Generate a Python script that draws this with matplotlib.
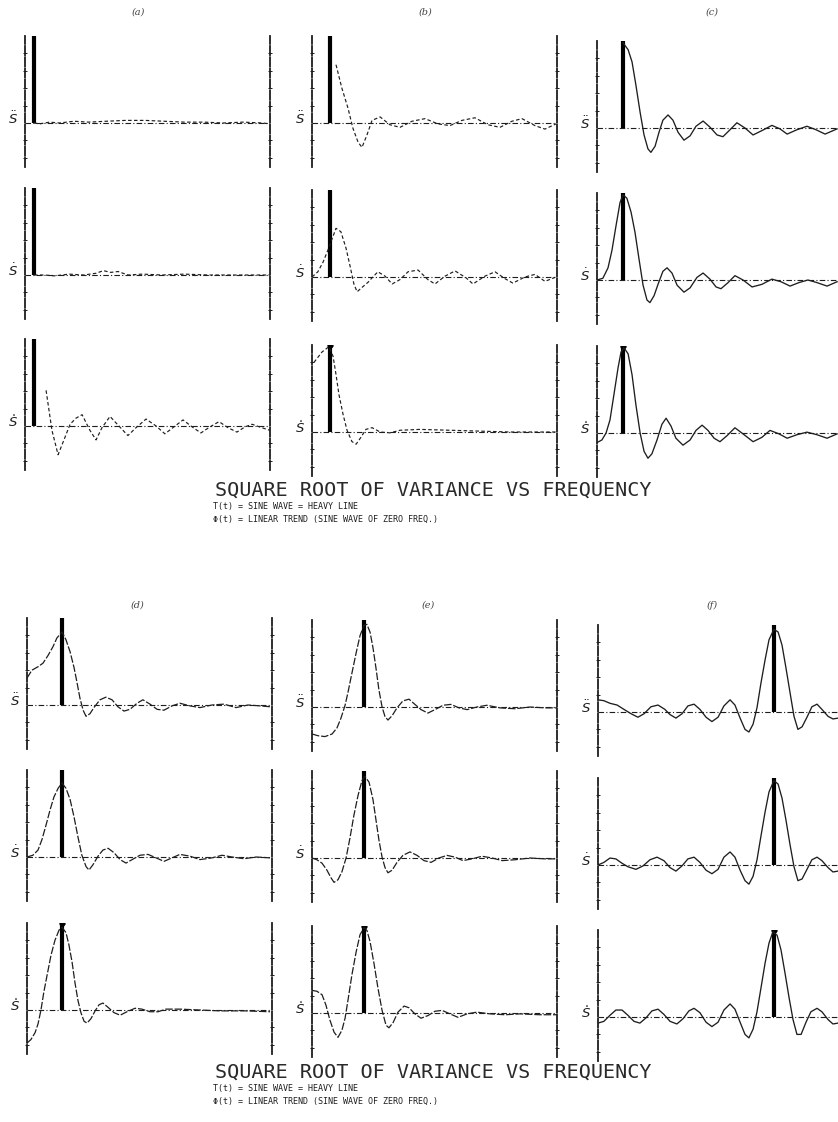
import matplotlib
matplotlib.use('Agg')
import matplotlib.pyplot as plt

# frequency axis runs 0..100 (% of Nyquist), amplitude in units of the sine-wave bar
bar_freq = {'a': 3.7, 'b': 7.3, 'c': 10.7, 'd': 14.3, 'e': 21.4, 'f': 71.8}
bar_height = 1.0

# ---- panel (a) ----
f_a1 = [3.7, 6, 10, 14, 20, 26, 33, 41, 49, 57, 65, 73, 81, 89, 97, 100]
s_a1 = [0, -0.01, 0.01, 0.0, 0.02, 0.01, 0.02, 0.03, 0.03, 0.02, 0.01, 0.01, 0.0, 0.01, 0.0, -0.01]
f_a2 = [3.7, 8, 12, 18, 24, 29, 32, 35, 38, 42, 48, 56, 65, 75, 85, 95, 100]
s_a2 = [0, 0.0, -0.01, 0.01, 0.0, 0.02, 0.05, 0.03, 0.04, 0.0, 0.01, 0.0, 0.01, 0.0, 0.0, 0.0, 0.0]
f_a3 = [8.6, 11.0, 13.5, 15.9, 18.4, 20.8, 23.3, 26.5, 29.0, 31.4, 34.7, 38.0, 42.0, 45.3, 49.4,
        53.5, 57.1, 60.8, 64.5, 68.2, 71.8, 75.5, 79.2, 82.9, 86.5, 89.8, 92.7, 96.7, 100]
s_a3 = [0.41, -0.05, -0.33, -0.16, 0.02, 0.09, 0.13, -0.05, -0.16, -0.02, 0.11, 0.01, -0.11, -0.02, 0.08,
        0.0, -0.09, -0.01, 0.07, -0.01, -0.08, -0.01, 0.05, -0.02, -0.07, -0.01, 0.02, -0.02, -0.05]

# ---- panel (b) ----
f_b1 = [9.8, 12.2, 14.7, 16.7, 18.8, 20.4, 22.4, 24.5, 27.8, 31.8, 35.9, 40.8, 46.1, 51.4, 56.3,
        61.2, 66.5, 71.8, 76.7, 81.6, 85.7, 91.0, 95.1, 99.6]
s_b1 = [0.67, 0.40, 0.17, -0.06, -0.22, -0.28, -0.14, 0.03, 0.07, -0.02, -0.05, 0.02, 0.05, -0.01, -0.03,
        0.03, 0.06, -0.02, -0.05, 0.02, 0.05, -0.03, -0.07, -0.01]
f_b2 = [0, 2.4, 4.5, 6.5, 9.8, 11.8, 13.9, 15.5, 17.1, 18.4, 20.4, 22.9, 24.5, 26.9, 29.8, 32.7, 35.9,
        39.2, 43.3, 47.3, 50.2, 54.3, 58.4, 62.9, 65.7, 70.6, 74.7, 78.8, 82.0, 86.9, 91.0, 95.1, 99.6]
s_b2 = [0, 0.06, 0.17, 0.31, 0.56, 0.52, 0.33, 0.13, -0.08, -0.17, -0.12, -0.06, -0.01, 0.06, 0.01, -0.08, -0.03,
        0.06, 0.08, -0.03, -0.08, 0.01, 0.07, -0.01, -0.08, 0.01, 0.06, -0.02, -0.07, 0.0, 0.03, -0.05, 0.0]
f_b3 = [0.8, 4.1, 6.9, 8.6, 9.8, 11.0, 12.7, 14.3, 16.3, 18.0, 20.0, 22.0, 24.5, 27.8, 31.8, 35.9,
        44.1, 56.3, 68.6, 80.8, 93.1, 99.6]
s_b3 = [0.80, 0.92, 0.98, 0.87, 0.66, 0.43, 0.20, 0.02, -0.11, -0.14, -0.06, 0.03, 0.05, 0.0, -0.01, 0.02,
        0.03, 0.02, 0.01, 0.0, 0.0, 0.0]

# ---- panel (c) ----
f_c1 = [10.6, 12.7, 14.3, 15.9, 17.6, 19.2, 20.8, 22.0, 23.7, 25.3, 26.9, 29.0, 31.0, 33.1, 35.5, 38.0,
        40.4, 43.3, 46.1, 49.0, 51.4, 54.3, 57.1, 60.4, 63.7, 67.3, 71.4, 74.7, 77.6, 81.6, 85.7, 89.4, 93.1, 98.0]
s_c1 = [0.98, 0.90, 0.76, 0.49, 0.18, -0.08, -0.24, -0.28, -0.21, -0.05, 0.09, 0.15, 0.09, -0.05, -0.14, -0.09,
        0.02, 0.08, 0.01, -0.08, -0.10, -0.02, 0.06, 0.0, -0.08, -0.03, 0.03, -0.01, -0.07, -0.02, 0.02, -0.02, -0.07, -0.01]
f_c2 = [0, 2.4, 4.5, 6.1, 7.8, 9.4, 10.6, 12.2, 13.9, 15.5, 17.1, 18.8, 20.4, 21.6, 23.3, 24.9, 26.9, 28.6,
        30.6, 32.7, 35.5, 38.0, 40.8, 43.3, 46.1, 48.6, 50.6, 53.5, 56.3, 59.6, 63.3, 67.3, 71.4, 75.1, 78.8,
        82.4, 86.1, 89.8, 93.9, 98.0]
s_c2 = [0, 0.02, 0.14, 0.34, 0.63, 0.89, 0.98, 0.94, 0.78, 0.55, 0.25, -0.06, -0.23, -0.26, -0.18, -0.05, 0.10, 0.14,
        0.08, -0.06, -0.14, -0.09, 0.03, 0.08, 0.01, -0.08, -0.10, -0.03, 0.05, 0.0, -0.08, -0.05, 0.01, -0.02, -0.07,
        -0.03, 0.0, -0.03, -0.07, -0.02]
f_c3 = [0, 2.0, 3.7, 5.3, 6.9, 8.6, 9.8, 11.0, 12.7, 14.3, 15.9, 17.6, 19.2, 20.8, 22.4, 24.5, 26.5, 28.2,
        30.2, 32.2, 35.1, 38.0, 40.4, 42.9, 45.3, 47.8, 50.2, 53.1, 56.3, 59.6, 63.7, 67.3, 70.6, 74.3, 77.6,
        81.6, 85.7, 89.8, 93.9, 98.0]
s_c3 = [-0.11, -0.08, 0.0, 0.15, 0.44, 0.75, 0.93, 0.98, 0.91, 0.67, 0.32, 0.0, -0.21, -0.29, -0.24, -0.08, 0.10, 0.17,
        0.08, -0.06, -0.14, -0.08, 0.03, 0.09, 0.03, -0.06, -0.10, -0.03, 0.06, -0.01, -0.10, -0.05, 0.03, -0.01, -0.06,
        -0.02, 0.01, -0.02, -0.06, -0.01]

# ---- panel (d) ----
f_d1 = [0, 2.0, 4.5, 6.5, 8.6, 10.6, 12.2, 14.3, 15.9, 17.6, 19.2, 20.4, 21.6, 22.9, 24.1, 25.7, 27.3, 29.8,
        32.2, 34.7, 37.1, 39.6, 42.0, 44.9, 47.3, 50.2, 53.1, 55.9, 59.2, 62.4, 66.5, 70.6, 75.5, 80.4, 85.3,
        90.2, 95.1, 99.2]
s_d1 = [0.31, 0.40, 0.44, 0.48, 0.57, 0.67, 0.77, 0.84, 0.75, 0.61, 0.43, 0.26, 0.08, -0.06, -0.13, -0.10, -0.03, 0.06,
        0.09, 0.06, -0.02, -0.07, -0.05, 0.02, 0.06, 0.01, -0.05, -0.06, -0.01, 0.02, -0.01, -0.03, 0.0, 0.01, -0.03,
        0.0, -0.01, -0.02]
f_d2 = [0, 2.4, 4.5, 6.1, 7.8, 9.4, 11.0, 12.7, 14.3, 15.9, 17.6, 19.2, 20.8, 22.4, 24.1, 25.3, 26.9, 29.0,
        31.0, 33.1, 35.5, 38.0, 40.4, 42.9, 46.1, 49.4, 52.7, 55.9, 59.2, 62.4, 66.5, 70.6, 75.5, 79.6, 83.7,
        88.6, 93.5, 99.2]
s_d2 = [0, 0.02, 0.08, 0.20, 0.37, 0.54, 0.69, 0.79, 0.85, 0.79, 0.66, 0.46, 0.23, 0.02, -0.11, -0.15, -0.09, 0.01,
        0.08, 0.10, 0.05, -0.03, -0.07, -0.03, 0.02, 0.03, -0.01, -0.05, -0.01, 0.03, 0.01, -0.03, -0.01, 0.02, 0.0,
        -0.02, 0.0, -0.01]
f_d3 = [0, 1.6, 3.3, 4.5, 5.7, 6.9, 8.2, 9.8, 11.4, 13.1, 14.3, 15.9, 17.1, 18.4, 19.6, 20.8, 22.0, 23.3,
        24.5, 26.1, 27.8, 29.4, 31.0, 33.1, 35.5, 38.0, 40.8, 44.1, 46.9, 50.2, 53.5, 56.7, 62.4, 70.6, 78.8,
        89.0, 99.2]
s_d3 = [-0.38, -0.34, -0.26, -0.16, 0.0, 0.21, 0.40, 0.63, 0.80, 0.92, 0.95, 0.89, 0.75, 0.55, 0.31, 0.11, -0.03, -0.13,
        -0.15, -0.10, -0.01, 0.06, 0.08, 0.03, -0.03, -0.06, -0.02, 0.02, 0.01, -0.02, -0.02, 0.01, 0.01, 0.0, -0.01,
        -0.01, -0.02]

# ---- panel (e) ----
f_e1 = [0, 2.4, 5.3, 8.2, 10.2, 11.8, 13.5, 14.7, 16.3, 18.0, 19.6, 21.2, 22.4, 23.7, 24.9, 26.1, 27.3, 28.6,
        29.8, 31.0, 32.7, 34.7, 37.1, 39.6, 42.0, 44.5, 47.3, 50.2, 53.5, 56.7, 60.0, 63.3, 67.3, 71.4, 76.7,
        82.9, 89.0, 95.1, 100]
s_e1 = [-0.31, -0.33, -0.34, -0.31, -0.24, -0.13, 0.02, 0.17, 0.39, 0.62, 0.82, 0.94, 0.95, 0.86, 0.68, 0.45, 0.20, 0.0,
        -0.11, -0.15, -0.10, -0.01, 0.07, 0.09, 0.03, -0.03, -0.07, -0.03, 0.02, 0.03, -0.01, -0.03, 0.0, 0.02, -0.01,
        -0.02, 0.0, -0.01, -0.01]
f_e2 = [0, 2.0, 4.1, 6.1, 7.8, 9.0, 10.6, 12.2, 13.9, 15.5, 17.1, 18.8, 20.4, 21.6, 23.3, 24.9, 26.1, 27.3,
        28.6, 29.8, 31.0, 32.7, 34.7, 37.1, 40.0, 42.9, 45.7, 48.6, 51.8, 55.1, 58.4, 61.6, 65.3, 69.4, 73.5,
        77.6, 82.9, 89.0, 95.1, 100]
s_e2 = [0, -0.02, -0.06, -0.14, -0.23, -0.28, -0.25, -0.16, 0.0, 0.23, 0.49, 0.72, 0.89, 0.94, 0.87, 0.67, 0.44, 0.21,
        0.01, -0.11, -0.17, -0.14, -0.05, 0.03, 0.07, 0.03, -0.03, -0.05, 0.0, 0.03, 0.01, -0.03, -0.01, 0.02, 0.0,
        -0.03, -0.02, 0.0, -0.01, -0.01]
f_e3 = [0, 2.0, 4.1, 5.7, 7.3, 9.0, 10.6, 12.2, 13.5, 14.7, 16.3, 18.0, 19.6, 21.2, 22.4, 23.7, 25.3, 26.9,
        28.6, 30.2, 31.4, 33.1, 35.1, 37.6, 39.6, 42.0, 44.5, 47.3, 50.2, 53.1, 56.3, 59.6, 63.3, 67.3, 72.7,
        78.8, 84.9, 93.1, 100]
s_e3 = [0.26, 0.25, 0.21, 0.09, -0.08, -0.22, -0.28, -0.20, -0.06, 0.15, 0.44, 0.70, 0.90, 0.98, 0.95, 0.82, 0.57, 0.29,
        0.03, -0.14, -0.17, -0.11, 0.01, 0.08, 0.06, -0.01, -0.06, -0.03, 0.02, 0.03, -0.01, -0.05, -0.01, 0.01, -0.01,
        -0.02, -0.01, -0.02, -0.02]

# ---- panel (f) ----
f_f1 = [0, 2.4, 4.9, 7.8, 10.6, 13.5, 16.3, 18.8, 21.6, 24.5, 27.3, 29.4, 31.8, 34.3, 36.7, 39.2, 41.6, 44.1,
        46.5, 49.0, 51.4, 53.9, 55.9, 58.0, 60.0, 61.6, 63.3, 64.9, 66.5, 68.2, 69.8, 71.8, 73.5, 75.1, 76.7,
        78.4, 80.0, 81.6, 83.3, 85.3, 87.3, 89.4, 91.4, 93.9, 95.9, 98.0]
s_f1 = [0.14, 0.13, 0.10, 0.08, 0.03, -0.02, -0.06, -0.02, 0.06, 0.08, 0.03, -0.03, -0.07, -0.02, 0.07, 0.09, 0.03, -0.06,
        -0.11, -0.06, 0.07, 0.14, 0.08, -0.07, -0.20, -0.23, -0.14, 0.05, 0.33, 0.60, 0.83, 0.95, 0.92, 0.77, 0.51,
        0.22, -0.05, -0.20, -0.17, -0.06, 0.06, 0.09, 0.03, -0.05, -0.08, -0.07]
f_f2 = [0, 2.4, 4.9, 7.3, 9.8, 12.2, 15.5, 18.4, 21.2, 24.1, 26.9, 29.4, 31.8, 34.3, 36.7, 39.2, 41.6, 44.1,
        46.5, 49.0, 51.4, 53.9, 55.9, 58.0, 60.0, 61.6, 63.3, 64.9, 66.5, 68.2, 69.8, 71.8, 73.5, 75.1, 76.7,
        78.4, 80.0, 81.6, 83.3, 85.3, 87.3, 89.4, 91.4, 93.9, 95.9, 98.0]
s_f2 = [0, 0.03, 0.08, 0.07, 0.02, -0.02, -0.05, -0.01, 0.06, 0.09, 0.05, -0.03, -0.07, -0.01, 0.07, 0.09, 0.03, -0.06,
        -0.10, -0.05, 0.09, 0.15, 0.09, -0.06, -0.18, -0.22, -0.13, 0.06, 0.33, 0.61, 0.84, 0.97, 0.93, 0.77, 0.52,
        0.23, -0.02, -0.18, -0.16, -0.05, 0.06, 0.09, 0.05, -0.03, -0.08, -0.07]
f_f3 = [0, 2.4, 4.9, 7.3, 9.8, 12.2, 14.7, 17.1, 19.6, 22.0, 24.5, 26.9, 29.4, 32.2, 34.7, 37.1, 39.2, 41.6,
        44.1, 46.5, 49.0, 51.4, 53.9, 55.9, 58.0, 60.0, 61.6, 63.3, 64.9, 66.5, 68.2, 69.8, 71.4, 73.1, 74.7,
        76.3, 78.0, 79.6, 81.2, 82.9, 84.9, 86.9, 89.4, 91.4, 93.9, 95.9, 98.0]
s_f3 = [-0.07, -0.05, 0.02, 0.08, 0.08, 0.02, -0.05, -0.07, -0.01, 0.07, 0.09, 0.03, -0.05, -0.08, -0.02, 0.07, 0.10, 0.05,
        -0.06, -0.11, -0.06, 0.08, 0.15, 0.09, -0.06, -0.20, -0.24, -0.14, 0.06, 0.33, 0.62, 0.85, 0.98, 0.94, 0.77,
        0.51, 0.22, -0.03, -0.20, -0.20, -0.06, 0.06, 0.10, 0.06, -0.03, -0.08, -0.07]

curves = {
    'a1': (f_a1, s_a1), 'a2': (f_a2, s_a2), 'a3': (f_a3, s_a3),
    'b1': (f_b1, s_b1), 'b2': (f_b2, s_b2), 'b3': (f_b3, s_b3),
    'c1': (f_c1, s_c1), 'c2': (f_c2, s_c2), 'c3': (f_c3, s_c3),
    'd1': (f_d1, s_d1), 'd2': (f_d2, s_d2), 'd3': (f_d3, s_d3),
    'e1': (f_e1, s_e1), 'e2': (f_e2, s_e2), 'e3': (f_e3, s_e3),
    'f1': (f_f1, s_f1), 'f2': (f_f2, s_f2), 'f3': (f_f3, s_f3),
}

# layout: left edge and zero line of each panel, in pixels of the 838x1122 page
W, H = 838, 1122
PW, UNIT = 245, 87
layout = {
    'a1': (25, 123), 'a2': (25, 275), 'a3': (25, 426),
    'b1': (312, 123), 'b2': (312, 277), 'b3': (312, 432),
    'c1': (597, 128), 'c2': (597, 280), 'c3': (597, 433),
    'd1': (27, 705), 'd2': (27, 857), 'd3': (27, 1010),
    'e1': (312, 707), 'e2': (312, 858), 'e3': (312, 1013),
    'f1': (598, 712), 'f2': (598, 865), 'f3': (598, 1017),
}
curve_style = {
    'a': dict(ls=(0, (3, 2)), lw=0.85), 'b': dict(ls=(0, (3, 2)), lw=0.85),
    'c': dict(ls='-', lw=0.95),
    'd': dict(ls=(0, (6, 1.5)), lw=0.9), 'e': dict(ls=(0, (6, 1.5)), lw=0.9),
    'f': dict(ls='-', lw=0.95),
}
row_label = {'1': r'$\ddot{S}$', '2': r'$\dot{S}$', '3': r'$\mathring{S}$'}
INK = '#1e1e1e'

fig = plt.figure(figsize=(W / 100, H / 100), dpi=100)

for key, (L, B) in layout.items():
    col, row = key[0], key[1]
    ax = fig.add_axes([L / W, 1 - (B + 0.5 * UNIT) / H, PW / W, 1.5 * UNIT / H])
    ax.set_xlim(0, 100)
    ax.set_ylim(-0.5, 1.0)
    ax.patch.set_alpha(0)
    for side in ['top', 'bottom']:
        ax.spines[side].set_visible(False)
    for side in ['left', 'right']:
        ax.spines[side].set_linestyle((0, (5, 1.2)))
        ax.spines[side].set_linewidth(1.3)
        ax.spines[side].set_color(INK)
    ax.set_xticks([])
    ax.set_yticks([-0.4, -0.2, 0.2, 0.4, 0.6, 0.8])
    ax.tick_params(axis='y', left=True, right=True, direction='inout', length=2.5,
                   width=0.7, color=INK, labelleft=False)
    ax.axhline(0, color=INK, lw=0.8, ls=(0, (5, 2, 1, 2)))
    ax.vlines(bar_freq[col], 0, bar_height, color='black', lw=3.0)
    if row == '3' and col != 'a':
        ax.plot([bar_freq[col]], [bar_height], 'o', color='black', ms=3.5)
    fx, sy = curves[key]
    ax.plot(fx, sy, color=INK, **curve_style[col])
    ax.text(-5, 0.05, row_label[row], ha='center', va='center', fontsize=9.5,
            color=INK, clip_on=False)

# panel letters
for lab, x, y in [('(a)', 138, 12), ('(b)', 425, 12), ('(c)', 712, 12),
                  ('(d)', 137, 605), ('(e)', 428, 605), ('(f)', 712, 605)]:
    fig.text(x / W, 1 - y / H, lab, ha='center', va='center', fontsize=7,
             style='italic', family='DejaVu Serif', color='#444444')

# captions below each block
for base in [496, 1078]:
    fig.text(215 / W, 1 - base / H, 'SQUARE ROOT OF VARIANCE VS FREQUENCY',
             family='DejaVu Sans Mono', fontsize=14.5, va='baseline', color='#2a2a2a')
    fig.text(213 / W, 1 - (base + 13) / H, 'T(t) = SINE WAVE = HEAVY LINE',
             family='DejaVu Sans Mono', fontsize=6, va='baseline', color=INK)
    fig.text(213 / W, 1 - (base + 26) / H, 'Φ(t) = LINEAR TREND (SINE WAVE OF ZERO FREQ.)',
             family='DejaVu Sans Mono', fontsize=6, va='baseline', color=INK)

fig.savefig('out.png', dpi=100, facecolor='white')
